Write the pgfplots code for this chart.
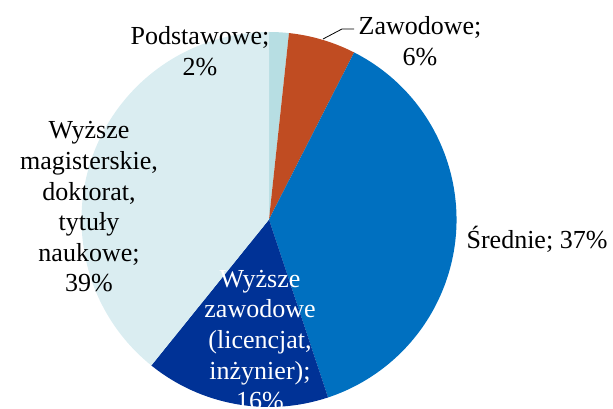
\documentclass[border=0pt]{standalone}
\usepackage{pgfplots}
\pgfplotsset{compat=1.18}
\usepackage{pgfplotstable}
\usepackage{fontspec}
\setmainfont{Liberation Serif}
\definecolor{cPod}{RGB}{183,222,227}
\definecolor{cZaw}{RGB}{192,76,34}
\definecolor{cSre}{RGB}{0,112,192}
\definecolor{cWz}{RGB}{0,50,150}
\definecolor{cMag}{RGB}{218,237,241}
\pgfplotstableread{
value col
1.7 cPod
5.8 cZaw
37.4 cSre
15.9 cWz
39.2 cMag
}\pietable
\begin{document}
\begin{tikzpicture}
\begin{axis}[
  x=1pt, y=1pt, xmin=0, xmax=613, ymin=0, ymax=409,
  scale only axis, hide axis, clip=true, anchor=origin, at={(0,0)},
]
\def\startang{90}
\pgfplotsforeachungrouped \i in {0,...,4}{%
  \pgfplotstablegetelem{\i}{value}\of\pietable
  \let\v=\pgfplotsretval
  \pgfplotstablegetelem{\i}{col}\of\pietable
  \let\c=\pgfplotsretval
  \pgfmathsetmacro\endang{\startang-3.6*\v}%
  \edef\temp{\noexpand\fill[\c] (axis cs:269,189.5) -- ++(\startang:187.5pt) arc[start angle=\startang, end angle=\endang, radius=187.5pt] -- cycle;}%
  \temp
  \global\let\startang=\endang
}
\draw[black, line width=0.8pt] (axis cs:323,370) -- (axis cs:342,380) -- (axis cs:354,380);
\begin{scope}[every node/.style={font=\fontsize{26}{30.6}\selectfont, align=center, inner sep=0pt}]
\node at (axis cs:200,358) {Podstawowe;\\2\%};
\node at (axis cs:420,368) {Zawodowe;\\6\%};
\node at (axis cs:537,170) {Średnie; 37\%};
\node at (axis cs:89,202) {Wyższe\\magisterskie,\\doktorat,\\tytuły\\naukowe;\\39\%};
\node[text=white] at (axis cs:260,69) {Wyższe\\zawodowe\\(licencjat,\\inżynier);\\16\%};
\end{scope}
\end{axis}
\pgfresetboundingbox
\useasboundingbox (0,0) rectangle (613pt,409pt);
\end{tikzpicture}
\end{document}
